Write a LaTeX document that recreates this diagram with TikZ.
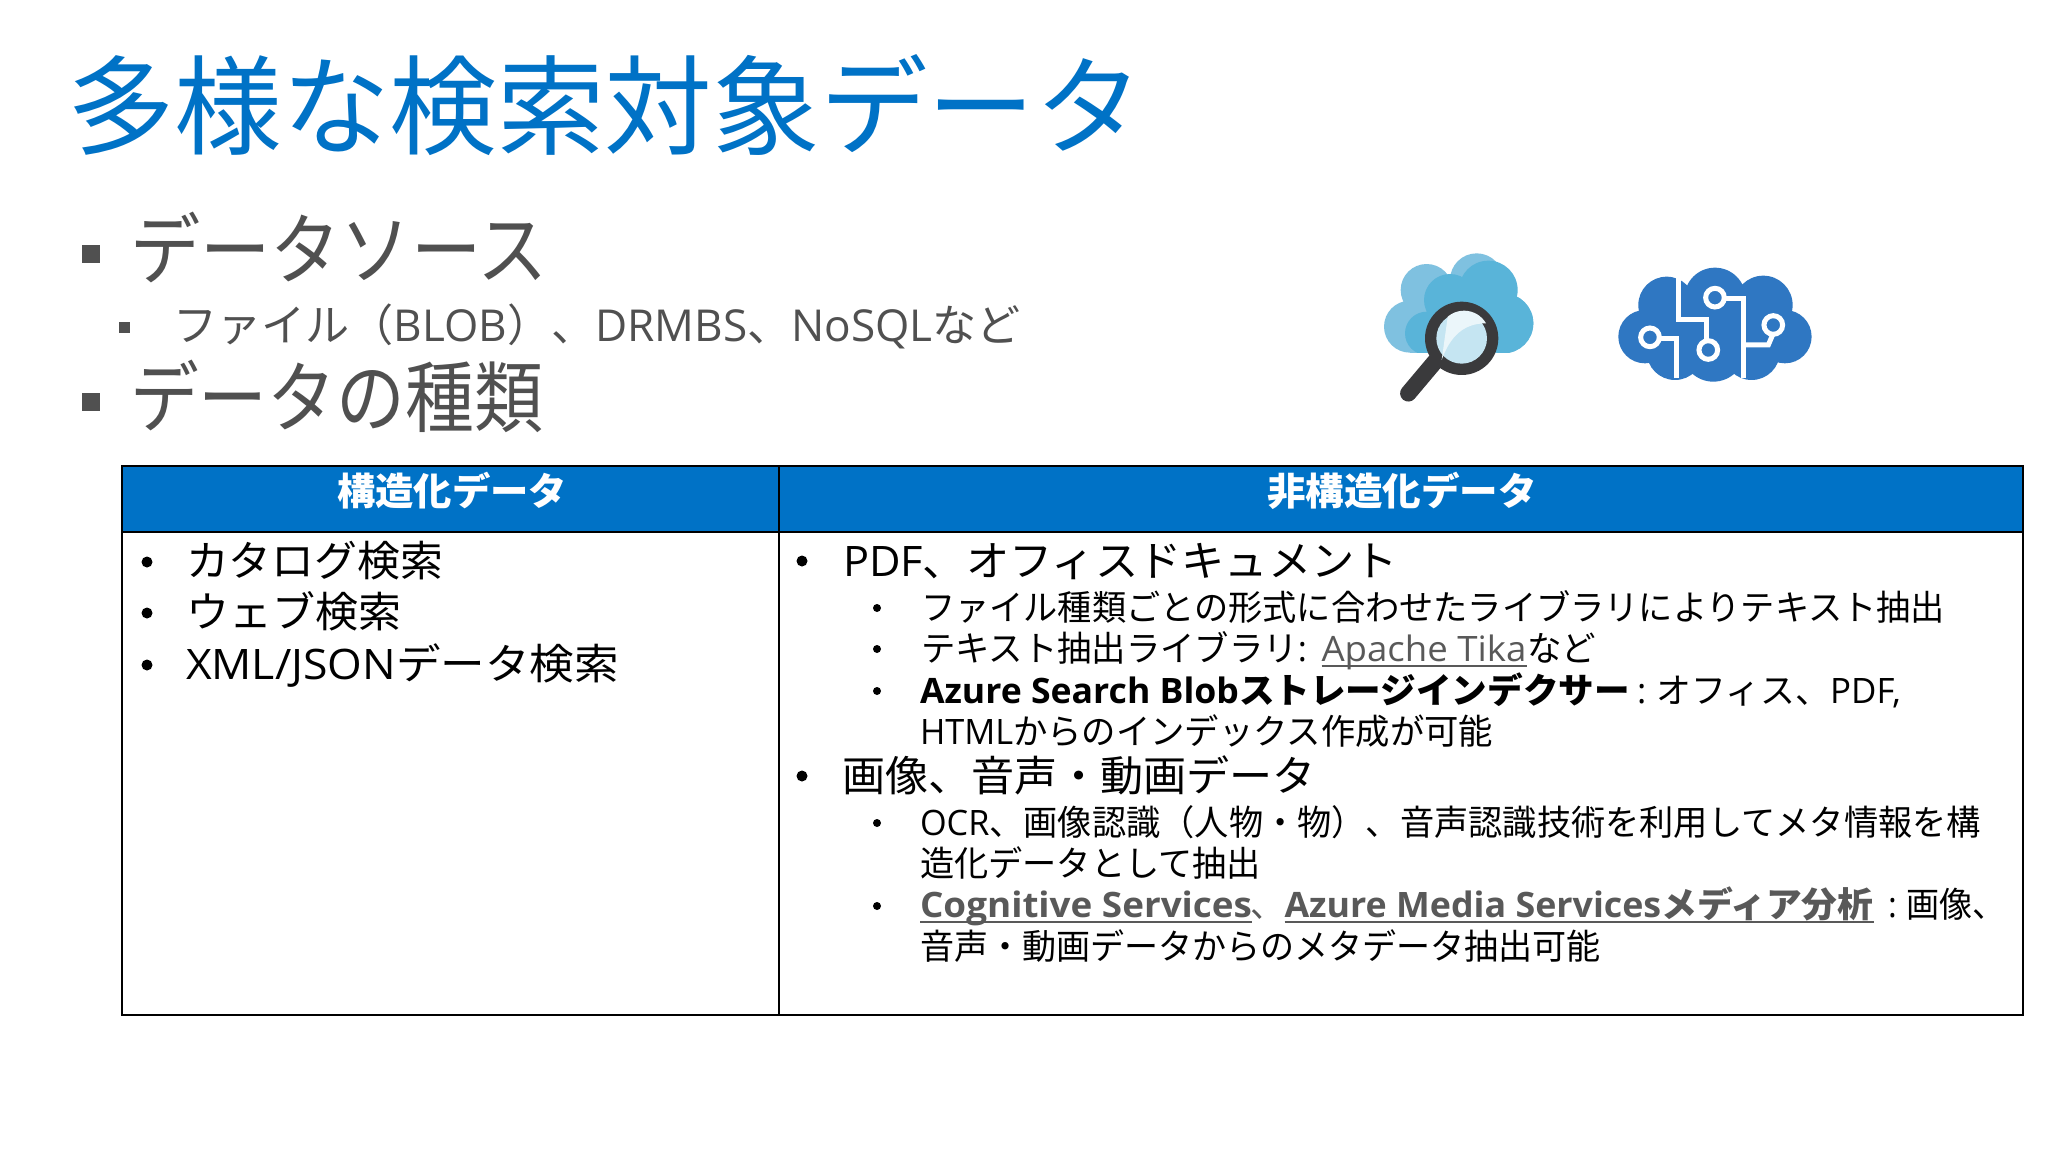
\documentclass[tikz,border=0pt]{standalone}
\usepackage{graphicx}
\usepackage{fontspec}
\setmainfont{Noto Sans CJK JP}
\newfontfamily\lat{Open Sans}
\definecolor{azure}{HTML}{0072C6}
\definecolor{body}{HTML}{505050}
\definecolor{linkc}{HTML}{595959}
\definecolor{cloudA}{HTML}{7FC1E0}
\definecolor{cloudB}{HTML}{59B4D9}
\definecolor{ring}{HTML}{3A3A3C}
\definecolor{brain}{HTML}{2F77C2}
\newsavebox\tbox
\newsavebox\ubox
\newcommand\fitw[3]{{\fontsize{#1}{#1}\selectfont\sbox\tbox{#3}\pgfmathsetmacro\rr{#2/\the\wd\tbox}\scalebox{\rr}[1]{\usebox\tbox}}}
\newcommand\ttxt[7]{\node[txt,text=#1] (#2) at (#3,#4) {\fitw{#5}{#6}{#7}};}
\newcommand\lt[1]{{\lat #1}}
\newcommand\ul[1]{\sbox\ubox{#1}\rlap{\rule[-6pt]{\wd\ubox}{2pt}}\usebox\ubox}
\tikzset{txt/.style={anchor=base west,inner sep=0pt,outer sep=0pt},
 grid/.style={draw=black,line width=2pt},
 dotm/.style={circle,fill=black,inner sep=0pt,minimum size=#1},
 sqm/.style={rectangle,fill=body,inner sep=0pt,minimum size=#1}}
\begin{document}
\begin{tikzpicture}[x=1pt,y=-1pt]
\useasboundingbox (0,0) rectangle (2048,1152);
\fill[white] (0,0) rectangle (2048,1152);
% title
\ttxt{azure}{title}{67}{146}{108}{1076}{多様な検索対象データ}
% bullets
\node[sqm=18pt] (b1) at (90.5,254) {};
\ttxt{body}{l1}{130}{278}{78}{418}{データソース}
\node[sqm=11pt] (b2) at (124.5,327) {};
\ttxt{body}{l2}{173}{341}{44}{848}{ファイル（\lt{BLOB}）、\lt{DRMBS}、\lt{NoSQL}など}
\node[sqm=18pt] (b3) at (90.5,402) {};
\ttxt{body}{l3}{130}{426}{78}{413}{データの種類}
% table
\fill[azure] (122,466) rectangle (2023,532);
\draw[grid] (122,466) rectangle (2023,1015);
\draw[grid] (122,532) -- (2023,532);
\draw[grid] (779,466) -- (779,1015);
\ttxt{white}{h1}{337}{505}{38}{230}{\bfseries 構造化データ}
\ttxt{white}{h2}{1267}{505}{38}{270}{\bfseries 非構造化データ}
% left cell
\node[dotm=11pt] (c1) at (147,562) {};
\ttxt{black}{t1}{186}{576}{42}{257}{カタログ検索}
\node[dotm=11pt] (c2) at (147,613) {};
\ttxt{black}{t2}{186}{627}{42}{215}{ウェブ検索}
\node[dotm=11pt] (c3) at (147,665) {};
\ttxt{black}{t3}{186}{679}{42}{433}{\lt{XML/JSON}データ検索}
% right cell
\node[dotm=11pt] (d1) at (802,561) {};
\ttxt{black}{r1}{843}{576}{42}{555}{\lt{PDF}、オフィスドキュメント}
\node[dotm=8pt] (e1) at (877,608) {};
\ttxt{black}{r2}{921}{620}{35}{1024}{ファイル種類ごとの形式に合わせたライブラリによりテキスト抽出}
\node[dotm=8pt] (e2) at (877,649) {};
\ttxt{black}{r3a}{921}{661}{35}{386}{テキスト抽出ライブラリ\lt{:}}
\ttxt{linkc}{r3b}{1321.5}{661}{35}{205}{\ul{\lt{Apache Tika}}}
\ttxt{black}{r3c}{1527}{661}{35}{69}{など}
\node[dotm=8pt] (e3) at (877,691) {};
\ttxt{black}{r4a}{920}{703}{35}{710}{\bfseries \lt{Azure Search Blob}ストレージインデクサー}
\ttxt{black}{r4b}{1637}{703}{35}{264}{\lt{:} オフィス、\lt{PDF,}}
\ttxt{black}{r5}{920}{744}{35}{573}{\lt{HTML}からのインデックス作成が可能}
\node[dotm=11pt] (d2) at (802,776) {};
\ttxt{black}{r6}{842}{791}{42}{474}{画像、音声・動画データ}
\node[dotm=8pt] (e4) at (877,823) {};
\ttxt{black}{r7}{920}{835}{35}{1061}{\lt{OCR}、画像認識（人物・物）、音声認識技術を利用してメタ情報を構}
\ttxt{black}{r8}{920}{876}{35}{341}{造化データとして抽出}
\node[dotm=8pt] (e5) at (877,906) {};
\ttxt{linkc}{r9a}{920}{917}{35}{332}{\bfseries\ul{\lt{Cognitive Services}}}
\ttxt{linkc}{r9b}{1250}{917}{35}{34}{、}
\ttxt{linkc}{r9c}{1284.5}{917}{35}{589}{\bfseries\ul{\lt{Azure Media Services}メディア分析}}
\ttxt{black}{r9d}{1888}{917}{35}{118}{\lt{:} 画像、}
\ttxt{black}{r10}{920}{959}{35}{681}{音声・動画データからのメタデータ抽出可能}
% search icon
\begin{scope}[shift={(1360,230)},x=0.3333pt,y=-0.3333pt]
\begin{scope}
\clip (40,40) rectangle (560,368);
\fill[cloudA] (200,180) circle (78) (350,150) circle (80) (150,290) circle (78) (430,280) circle (90) (300,250) circle (115);
\fill[cloudA] (150,300) rectangle (450,368);
\fill[cloudB] (270,210) circle (78) (385,180) circle (88) (430,280) circle (90) (200,310) circle (65) (300,280) circle (100);
\end{scope}
\draw[ring,line width=16.5pt,line cap=round] (225,395) -- (145,490);
\fill[ring] (305,325) circle (110);
\fill[cloudB!35!white] (305,325) circle (76);
\fill[cloudB!12!white] (245,390) .. controls (270,320) and (310,280) .. (378,280) arc[start angle=-30,end angle=-130,radius=76] -- cycle;
\end{scope}
% brain icon
\begin{scope}[shift={(1360,230)},x=0.3333pt,y=-0.3333pt]
\fill[brain] (920,225) circle (85) (1065,205) circle (92) (1210,225) circle (88) (1275,320) circle (80) (855,320) circle (80) (945,365) circle (85) (1175,365) circle (85) (1060,360) circle (95) (1060,290) circle (120);
\begin{scope}[every path/.style={draw=white,line width=5pt}]
\draw (955,135) -- (955,268) -- (1040,268) -- (1040,335);
\draw (950,445) -- (950,325) -- (900,325);
\draw (1090,205) -- (1150,205) -- (1150,445);
\draw (1150,345) -- (1225,345) -- (1240,310);
\end{scope}
\foreach \p/\q in {870/322,1065/203,1240/285,1045/360}{\draw[white,fill=brain,line width=5pt] (\p,\q) circle (28);}
\end{scope}
\end{tikzpicture}
\end{document}
